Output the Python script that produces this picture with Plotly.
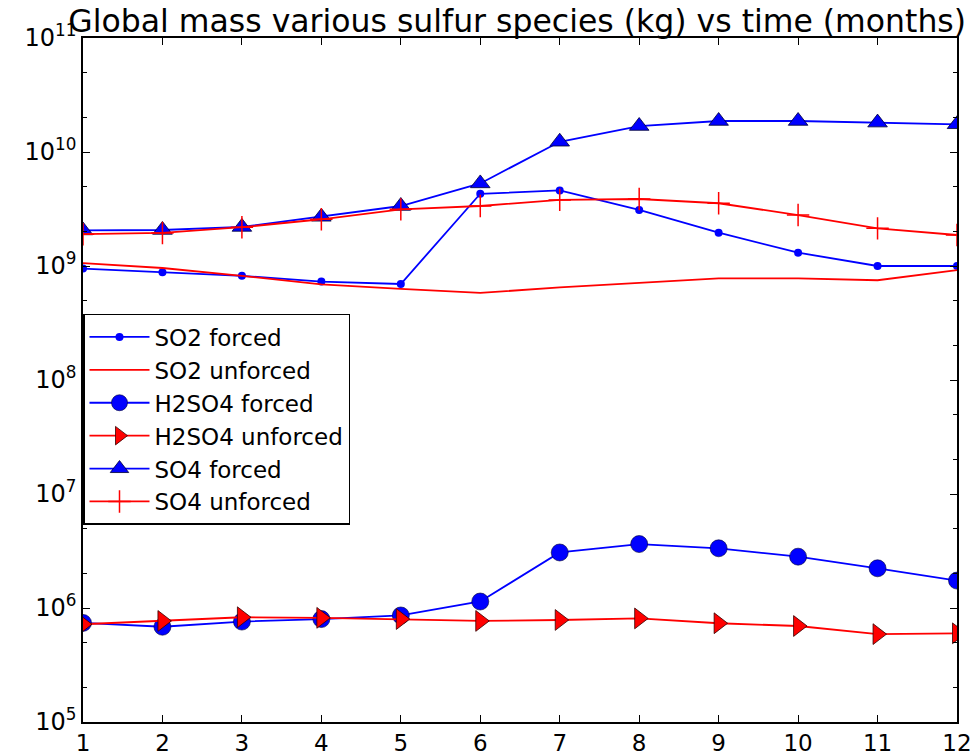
import plotly.graph_objects as go

months = list(range(1, 13))

so2_forced = [9.5e8, 8.8e8, 8.2e8, 7.3e8, 6.95e8, 4.3e9, 4.6e9, 3.1e9, 1.96e9, 1.31e9, 1.0e9, 1.0e9]
so2_unforced = [1.06e9, 9.6e8, 8.2e8, 6.9e8, 6.3e8, 5.8e8, 6.5e8, 7.1e8, 7.8e8, 7.8e8, 7.5e8, 9.2e8]
h2so4_forced = [7.4e5, 6.85e5, 7.6e5, 8.0e5, 8.6e5, 1.14e6, 3.07e6, 3.64e6, 3.34e6, 2.82e6, 2.23e6, 1.74e6]
h2so4_unforced = [7.2e5, 7.7e5, 8.3e5, 8.2e5, 8.0e5, 7.7e5, 7.85e5, 8.1e5, 7.35e5, 6.95e5, 5.9e5, 6.0e5]
so4_forced = [2.05e9, 2.07e9, 2.2e9, 2.7e9, 3.36e9, 5.3e9, 1.23e10, 1.69e10, 1.87e10, 1.87e10, 1.81e10, 1.75e10]
so4_unforced = [1.9e9, 1.95e9, 2.19e9, 2.57e9, 3.14e9, 3.36e9, 3.8e9, 3.87e9, 3.55e9, 2.8e9, 2.14e9, 1.87e9]

y_tickvals = [1e5, 1e6, 1e7, 1e8, 1e9, 1e10, 1e11]
y_ticktext = ["10<sup>5</sup>", "10<sup>6</sup>", "10<sup>7</sup>", "10<sup>8</sup>",
              "10<sup>9</sup>", "10<sup>10</sup>", "10<sup>11</sup>"]

BLUE = "#0000ff"
RED = "#ff0000"

fig = go.Figure()
fig.add_trace(go.Scatter(x=months, y=so2_forced, name="SO2 forced", mode="lines+markers",
                         legendgroup="a",
                         line=dict(color=BLUE, width=1.8),
                         marker=dict(symbol="circle", size=8, color=BLUE, line=dict(width=0))))
fig.add_trace(go.Scatter(x=months, y=so2_unforced, name="SO2 unforced", mode="lines",
                         legendgroup="b",
                         line=dict(color=RED, width=1.8)))
fig.add_trace(go.Scatter(x=months, y=h2so4_forced, name="H2SO4 forced", mode="lines+markers",
                         legendgroup="c",
                         line=dict(color=BLUE, width=1.8),
                         marker=dict(symbol="circle", size=17, color=BLUE, line=dict(width=0.6, color="#000033"))))
fig.add_trace(go.Scatter(x=months, y=h2so4_unforced, name="H2SO4 unforced", mode="lines+markers",
                         legendgroup="d",
                         line=dict(color=RED, width=1.8),
                         marker=dict(symbol="triangle-right", size=18, color=RED, line=dict(width=0.8, color="#330000"))))
fig.add_trace(go.Scatter(x=months, y=so4_forced, name="SO4 forced", mode="lines+markers",
                         legendgroup="e",
                         line=dict(color=BLUE, width=1.8),
                         marker=dict(symbol="triangle-up", size=17, color=BLUE, line=dict(width=0.8, color="#000033"))))
fig.add_trace(go.Scatter(x=months, y=so4_unforced, name="SO4 unforced", mode="lines+markers",
                         legendgroup="f",
                         line=dict(color=RED, width=1.8),
                         marker=dict(symbol="cross-thin", size=16, color=RED, line=dict(width=1.5, color=RED))))

fig.update_layout(
    width=974, height=755,
    paper_bgcolor="white", plot_bgcolor="white",
    margin=dict(l=83, r=17, t=38, b=33, autoexpand=False),
    font=dict(family="DejaVu Sans", size=22, color="black"),
    title=dict(text="Global mass various sulfur species (kg) vs time (months)",
               x=0.531, xref="container", xanchor="center",
               y=0.987, yref="container", yanchor="top",
               font=dict(family="DejaVu Sans", size=31.5, color="black")),
    showlegend=True,
    legend=dict(x=0.0, xanchor="left", y=0.5965, yanchor="top",
                bgcolor="white", bordercolor="black", borderwidth=1.5,
                font=dict(family="DejaVu Sans", size=23, color="black"),
                tracegroupgap=0, itemwidth=60),
)

fig.update_xaxes(range=[1, 12], tickvals=months, ticks="inside", ticklen=7, tickwidth=1,
                 tickcolor="black", showline=True, linecolor="black", linewidth=1.5,
                 mirror="ticks", showgrid=False, zeroline=False, automargin=False,
                 tickfont=dict(family="DejaVu Sans", size=23))
fig.update_yaxes(type="log", range=[5, 11], tickvals=y_tickvals, ticktext=y_ticktext,
                 ticks="inside", ticklen=7, tickwidth=1, tickcolor="black",
                 showline=True, linecolor="black", linewidth=1.5, mirror="ticks",
                 showgrid=False, zeroline=False, automargin=False,
                 minor=dict(ticks="inside", ticklen=4, tickcolor="black", tickwidth=1, showgrid=False),
                 tickfont=dict(family="DejaVu Sans", size=24))

fig.write_html("out.html", config={"displayModeBar": False},
               post_script="document.body.style.margin='0';document.body.style.overflow='hidden';")
